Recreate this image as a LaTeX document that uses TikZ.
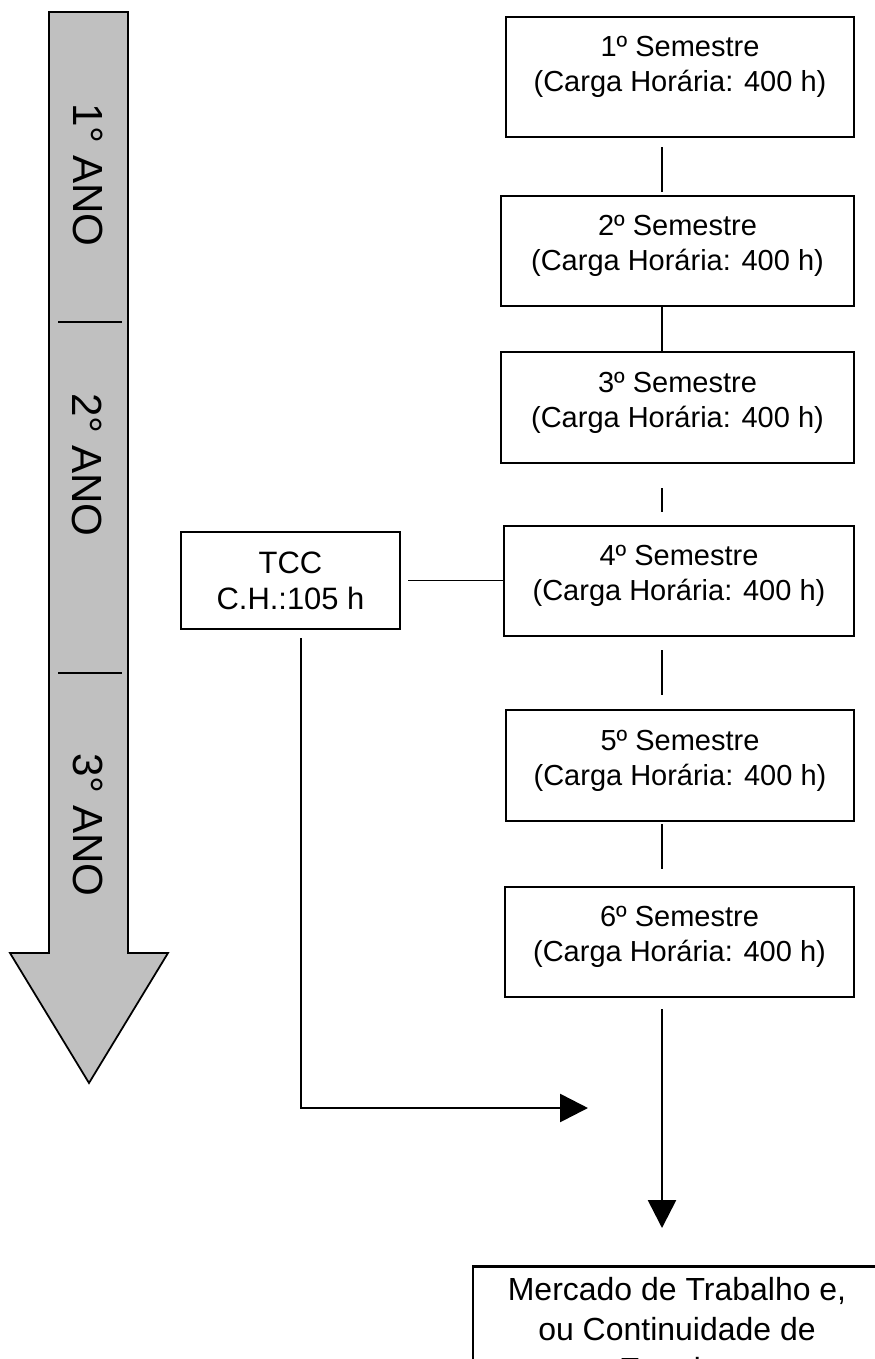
\documentclass[tikz,border=0pt]{standalone}
\usepackage{fontspec}
\setmainfont{Liberation Sans}
\usepackage{tikz}
\usetikzlibrary{arrows.meta}
\definecolor{cinza}{RGB}{192,192,192}

\begin{document}
\begin{tikzpicture}[x=0.02cm,y=-0.02cm,
  sem/.style={draw,line width=1.5pt,align=center,text depth=9pt,font=\fontsize{16.5}{19.9}\selectfont},
  lig/.style={line width=1pt},
  seta/.style={line width=1.5pt,-{Triangle[length=0.56cm,width=0.56cm]}},
  ano/.style={rotate=-90,font=\fontsize{24}{28}\selectfont}]
\useasboundingbox (0,0) rectangle (875,1359);
\clip (0,0) rectangle (875,1359);

% seta dos anos
\draw[fill=cinza,line width=1pt] (49,12) -- (128,12) -- (128,953) -- (168,953) -- (89,1083) -- (10,953) -- (49,953) -- cycle;
\draw[lig] (58,322) -- (122,322);
\draw[lig] (58,673) -- (122,673);
\node[ano] (ano1) at (88,175) {1° ANO};
\node[ano] (ano2) at (87,465) {2° ANO};
\node[ano] (ano3) at (88,825) {3° ANO};

% semestres
\node[sem,minimum width=6.96cm,minimum height=2.4cm,text depth=15pt] (sem1) at (680,77) {1º Semestre\\(Carga Horária: 400 h)};
\node[sem,minimum width=7.06cm,minimum height=2.2cm] (sem2) at (677.5,251) {2º Semestre\\(Carga Horária: 400 h)};
\node[sem,minimum width=7.06cm,minimum height=2.22cm] (sem3) at (677.5,407.5) {3º Semestre\\(Carga Horária: 400 h)};
\node[sem,minimum width=7cm,minimum height=2.2cm] (sem4) at (679,581) {4º Semestre\\(Carga Horária: 400 h)};
\node[sem,minimum width=6.96cm,minimum height=2.22cm] (sem5) at (680,765.5) {5º Semestre\\(Carga Horária: 400 h)};
\node[sem,minimum width=6.98cm,minimum height=2.2cm] (sem6) at (679.5,942) {6º Semestre\\(Carga Horária: 400 h)};

\node[sem,text depth=,minimum width=4.38cm,minimum height=1.94cm,font=\fontsize{17.6}{20.5}\selectfont] (tcc) at (290.5,580.5) {TCC\\C.H.:105 h};

\node[sem,text depth=,anchor=north,minimum width=8.16cm,minimum height=2.52cm,font=\fontsize{18.2}{22.8}\selectfont] (mercado) at (677,1265) {Mercado de Trabalho e,\\ou Continuidade de\\Estudos};

% ligacoes
\coordinate (eixo) at (662,0);
\draw[lig,shorten <=0.18cm,shorten >=0.06cm] (sem1.south -| eixo) -- (sem2.north -| eixo);
\draw[lig] (sem2.south -| eixo) -- (sem3.north -| eixo);
\draw[lig,shorten <=0.48cm,shorten >=0.26cm] (sem3.south -| eixo) -- (sem4.north -| eixo);
\draw[lig,shorten <=0.26cm,shorten >=0.28cm] (sem4.south -| eixo) -- (sem5.north -| eixo);
\draw[lig,shorten <=0.04cm,shorten >=0.34cm] (sem5.south -| eixo) -- (sem6.north -| eixo);
\draw[lig,shorten <=0.14cm] (tcc.east) -- (tcc.east -| sem4.west);

\draw[seta,shorten <=0.22cm,shorten >=0.74cm] (sem6.south -| eixo) -- (mercado.north -| eixo);

\coordinate (canto) at (301,1108);
\coordinate (fim) at (588,1108);
\draw[seta,shorten <=0.16cm] (tcc.south -| canto) -- (canto) -- (fim);

\end{tikzpicture}
\end{document}
